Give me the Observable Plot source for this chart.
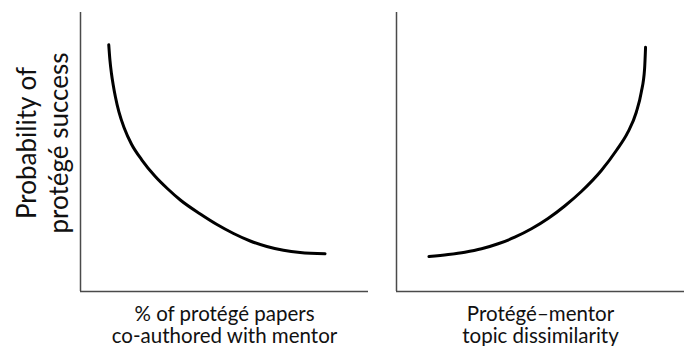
<!DOCTYPE html>
<html>
<head>
<meta charset="utf-8">
<script src="https://cdn.jsdelivr.net/npm/d3@7"></script>
<script src="https://cdn.jsdelivr.net/npm/@observablehq/plot@0.6"></script>
<style>
  html, body { margin: 0; padding: 0; background: #fff; }
  #chart svg { display: block; }
</style>
</head>
<body>
<div id="chart"></div>
<script>
// Panels
const panels = ["left", "right"];
const xLabels = ["% of protégé papers\nco-authored with mentor", "Protégé–mentor\ntopic dissimilarity"];
const yLabel = "Probability of\nprotégé success";

// Left panel curve (conceptual, 0–100 units)
const leftX = [9.81, 10.23, 10.75, 11.33, 12.13, 13.34, 15.25, 17.68, 21.32, 25.82, 30.33, 34.66, 41.59, 47.38, 53.14, 58.93, 64.71, 70.47, 76.26, 84.92];
const leftY = [88.42, 82.80, 78.14, 74.19, 69.71, 64.34, 58.42, 52.87, 47.13, 41.40, 36.74, 32.80, 27.78, 24.01, 20.79, 18.10, 16.13, 14.80, 13.98, 13.51];

// Right panel curve
const rightX = [11.27, 17.95, 23.74, 29.53, 35.29, 41.07, 46.86, 52.62, 58.41, 64.19, 71.13, 76.33, 80.35, 83.26, 84.99, 86.14, 86.48];
const rightY = [12.54, 13.26, 14.09, 15.30, 17.10, 19.46, 22.47, 26.16, 30.65, 35.84, 43.37, 50.54, 57.10, 64.26, 71.43, 79.82, 87.56];

const curveData = [
  ...leftX.map((x, i) => ({panel: "left", x, y: leftY[i]})),
  ...rightX.map((x, i) => ({panel: "right", x, y: rightY[i]}))
];
const labelData = panels.map((p, i) => ({panel: p, label: xLabels[i]}));

const font = "Lato, 'Open Sans', sans-serif";

const chart = Plot.plot({
  width: 685,
  height: 346,
  marginLeft: 80,
  marginRight: 0,
  marginTop: 12,
  marginBottom: 55,
  style: {fontFamily: font, background: "#fff", overflow: "visible"},
  fx: {domain: panels, axis: null, paddingInner: 0.0885, paddingOuter: 0},
  x: {domain: [0, 100], axis: null},
  y: {domain: [0, 100], axis: null},
  marks: [
    Plot.ruleX([0], {stroke: "#4a4a4a", strokeWidth: 1.5}),
    Plot.ruleY([0], {stroke: "#4a4a4a", strokeWidth: 1.5}),
    Plot.line(curveData, {x: "x", y: "y", fx: "panel", stroke: "#000", strokeWidth: 3, curve: "monotone-x"}),
    Plot.text(labelData, {
      fx: "panel", text: "label", frameAnchor: "bottom", lineAnchor: "top", textAnchor: "middle",
      dy: 14, fontSize: 20.5, lineHeight: 1.08, fill: "#111"
    }),
    Plot.text([{panel: "left", label: yLabel}], {
      fx: "panel", text: "label", frameAnchor: "left", rotate: -90, textAnchor: "middle",
      lineAnchor: "middle", dx: -39, dy: -9, fontSize: 26, lineHeight: 1.23, fill: "#111"
    })
  ]
});
document.getElementById("chart").appendChild(chart);
</script>
</body>
</html>
